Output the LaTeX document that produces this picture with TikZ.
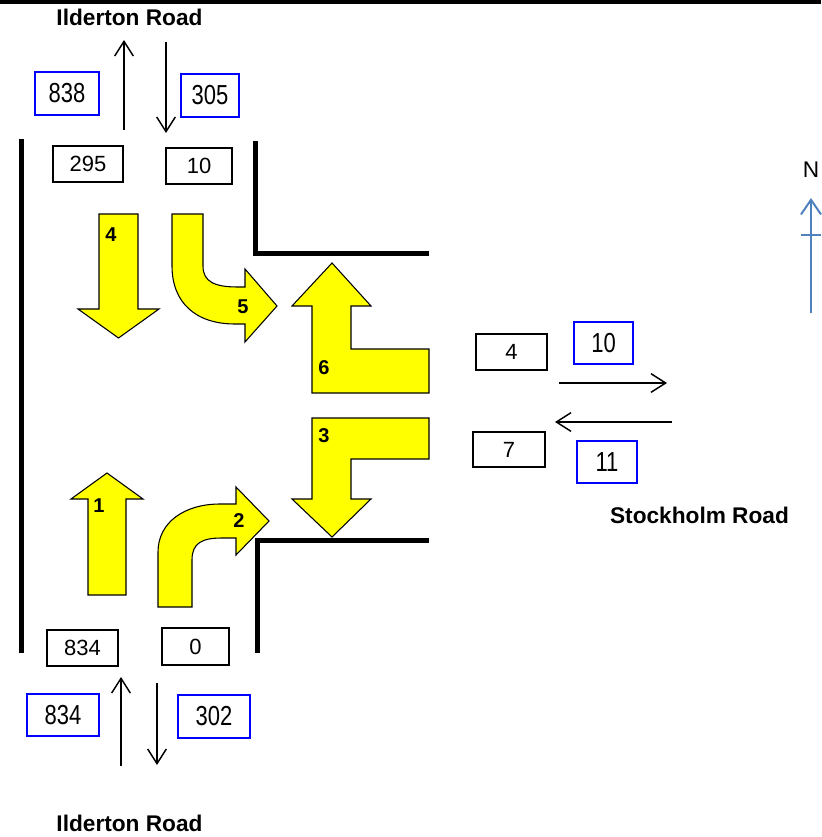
\documentclass[tikz,border=0pt]{standalone}
\usepackage{fontspec}
\setmainfont{Liberation Sans}
\usepackage{graphicx}
\usetikzlibrary{arrows.meta}
\definecolor{nblue}{RGB}{79,129,189}
\definecolor{bbox}{RGB}{0,0,255}
\definecolor{yel}{RGB}{255,255,0}
\begin{document}
\begin{tikzpicture}[x=0.75pt,y=-0.75pt,
  cnt/.style={draw=black, line width=1.3pt, inner sep=0pt, font=\fontsize{16.5}{18}\selectfont},
  blu/.style={draw=bbox, line width=1.3pt, inner sep=0pt, font=\fontsize{16.5}{18}\selectfont},
  road/.style={line width=3.75pt, line join=miter},
  flow/.style={line width=1.1pt, -{Straight Barb[length=11pt,width=14pt]}},
  yarr/.style={fill=yel, draw=black, line width=0.8pt, line join=miter},
  num/.style={font=\bfseries\fontsize{15}{16}\selectfont, inner sep=0pt},
  roadname/.style={font=\bfseries\fontsize{17}{20}\selectfont, inner sep=0pt}
]
\useasboundingbox (0,0) rectangle (821,837);
\fill (0,0) rectangle (821,4.5);

% road edges
\draw[road] (21,139) -- (21,653);
\draw[road] (255,141) -- (255,254) -- (429,254);
\draw[road] (429,540) -- (257,540) -- (257,653);

% road names
\node[roadname] (ntitle) at (129.5,17) {Ilderton Road};
\node[roadname] (stitle) at (129.5,823) {Ilderton Road};
\node[roadname] (etitle) at (699.5,515) {Stockholm Road};

% count boxes
\node[blu, minimum width=48pt, minimum height=32.25pt] (b838) at (67,93.5) {\scalebox{1}[1.25]{838}};
\node[blu, minimum width=43.5pt, minimum height=32.25pt] (b305) at (210,95.5) {\scalebox{1}[1.25]{305}};
\node[cnt, minimum width=52.5pt, minimum height=27pt] (c295) at (88,164) {295};
\node[cnt, minimum width=49.5pt, minimum height=27pt] (c10) at (199,166) {10};
\node[cnt, minimum width=53.25pt, minimum height=27pt] (c834) at (82.5,648) {834};
\node[cnt, minimum width=50.25pt, minimum height=27.75pt] (c0) at (195.5,646.5) {0};
\node[blu, minimum width=54pt, minimum height=31.5pt] (b834) at (63,715) {\scalebox{1}[1.25]{834}};
\node[blu, minimum width=54pt, minimum height=32.25pt] (b302) at (214,716.5) {\scalebox{1}[1.25]{302}};
\node[cnt, minimum width=53.25pt, minimum height=27pt] (c4) at (511.5,352) {4};
\node[blu, minimum width=44.25pt, minimum height=31.5pt] (b10) at (603.5,343) {\scalebox{1}[1.25]{10}};
\node[cnt, minimum width=54pt, minimum height=26.25pt] (c7) at (509,449.5) {7};
\node[blu, minimum width=45pt, minimum height=31.5pt] (b11) at (607,462) {\scalebox{1}[1.25]{11}};

% flow arrows
\coordinate (nuS) at (124,130); \coordinate (nuE) at (124,40);
\coordinate (ndS) at (166,42);  \coordinate (ndE) at (166,133);
\coordinate (suS) at (121,766); \coordinate (suE) at (121,677);
\coordinate (sdS) at (157,683); \coordinate (sdE) at (157,765);
\coordinate (erS) at (559,383); \coordinate (erE) at (667,383);
\coordinate (elS) at (672,422); \coordinate (elE) at (555,422);
\draw[flow] (nuS) -- (nuE);
\draw[flow] (ndS) -- (ndE);
\draw[flow] (suS) -- (suE);
\draw[flow] (sdS) -- (sdE);
\draw[flow] (erS) -- (erE);
\draw[flow] (elS) -- (elE);

% yellow movement arrows
\draw[yarr] (99,214) -- (138,214) -- (138,309) -- (159,309) -- (118.5,338) -- (78,309) -- (99,309) -- cycle;
\draw[yarr] (172,214) -- (203,214) -- (203,266) .. controls (203,282) and (215,287) .. (238,287) -- (245,287) -- (245,269) -- (277,306) -- (245,342) -- (245,324) -- (235,324) .. controls (195,324) and (172,302) .. (172,266) -- cycle;
\draw[yarr] (312,306) -- (292,306) -- (332,263) -- (371,306) -- (351,306) -- (351,349) -- (429,349) -- (429,393) -- (312,393) -- cycle;
\draw[yarr] (312,418) -- (429,418) -- (429,459) -- (351,459) -- (351,499) -- (371,499) -- (332,537) -- (292,499) -- (312,499) -- cycle;
\draw[yarr] (88,595) -- (88,499) -- (71,499) -- (107,473) -- (143,499) -- (126,499) -- (126,595) -- cycle;
\draw[yarr] (158,607) -- (158,552) .. controls (158,522) and (185,504) .. (220,504) -- (236,504) -- (236,487) -- (269,521) -- (236,555) -- (236,538) -- (222,538) .. controls (202,538) and (192,543) .. (192,560) -- (192,607) -- cycle;

\node[num] (m4) at (111,235) {4};
\node[num] (m5) at (243,307) {5};
\node[num] (m6) at (324,368) {6};
\node[num] (m3) at (324,436) {3};
\node[num] (m1) at (99,506) {1};
\node[num] (m2) at (239,521) {2};

% north arrow
\node[font=\fontsize{17}{18}\selectfont, inner sep=0pt] (nlab) at (811,170) {N};
\coordinate (nS) at (811,313); \coordinate (nE) at (811,198);
\coordinate (tL) at (801,235); \coordinate (tR) at (821,235);
\draw[nblue, line width=1.5pt, -{Straight Barb[length=11pt,width=15pt]}] (nS) -- (nE);
\draw[nblue, line width=1.2pt] (tL) -- (tR);
\end{tikzpicture}
\end{document}
